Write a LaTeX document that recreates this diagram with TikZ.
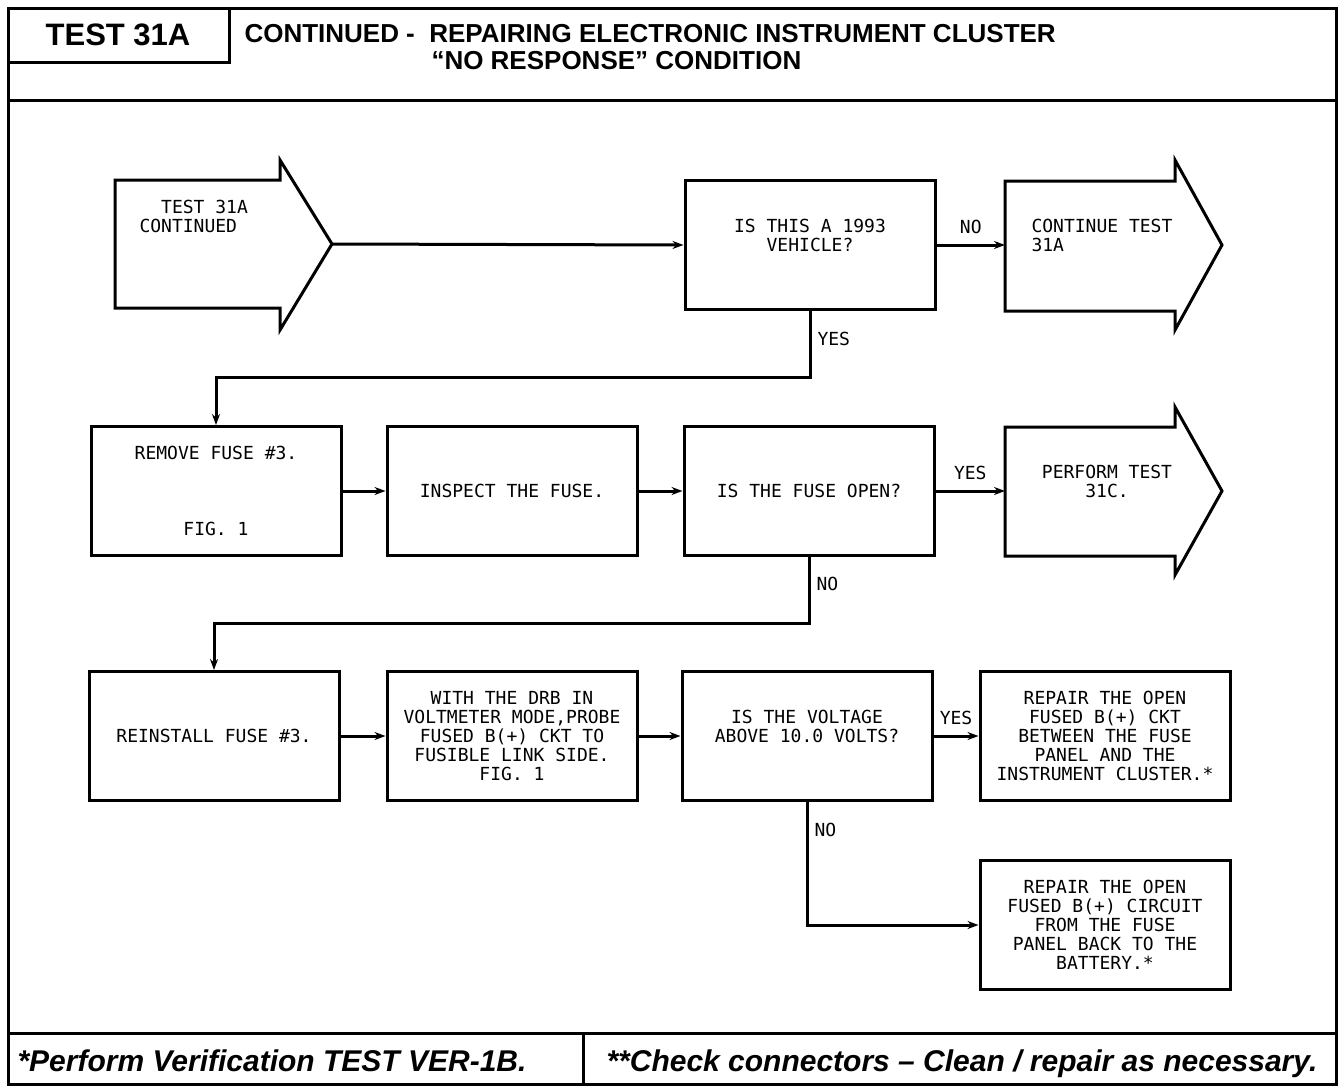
\documentclass[tikz,border=0pt]{standalone}
\usepackage{fontspec}
\usetikzlibrary{arrows.meta}
\setmainfont{Liberation Sans}
\newfontfamily\plotfont{DejaVu Sans Mono}
\tikzset{>={Stealth[length=11pt,width=8pt]}}
\tikzset{
  stepbox/.style={draw,line width=3pt,minimum width=250pt,minimum height=129pt,inner sep=0pt,align=center,font=\plotfont\fontsize{18}{19}\selectfont},
  plottext/.style={font=\plotfont\fontsize{18}{19}\selectfont,inner sep=0pt},
  headtext/.style={anchor=base west,font=\bfseries\fontsize{26}{26}\selectfont,inner sep=0pt,text depth=0pt},
  notetext/.style={anchor=base west,font=\bfseries\itshape\fontsize{30}{30}\selectfont,inner sep=0pt},
  flow/.style={->,line width=3pt},
}

\begin{document}
\begin{tikzpicture}[x=1pt,y=-1pt,line width=3pt]
\useasboundingbox (0,0) rectangle (1344,1092);
\draw (8,8) rectangle (1336,1084);
\draw (8,100) -- (1336,100);
\draw (229,8) -- (229,62) -- (8,62);
\draw (8,1033) -- (1336,1033);
\draw (583,1033) -- (583,1084);
\node[font=\bfseries\fontsize{31}{31}\selectfont] (testid) at (118,35) {TEST 31A};
\node[headtext] (title) at (243,42) {CONTINUED -\ \ REPAIRING ELECTRONIC INSTRUMENT CLUSTER};
\node[headtext] (subtitle) at (430,69) {“NO RESPONSE” CONDITION};
\node[notetext] (note1) at (16,1071) {*Perform Verification TEST VER-1B.};
\node[notetext] (note2) at (605,1071) {**Check connectors -- Clean / repair as necessary.};

\draw (115,180) -- (280,180) -- (280,160) -- (332,244) -- (280,330) -- (280,308) -- (115,308) -- cycle;
\coordinate (starttip) at (332,244);
\node[plottext,anchor=west,align=left] (startlbl) at (138,216) {\ \ TEST 31A\\CONTINUED};
\draw (1005,181) -- (1175,181) -- (1175,160) -- (1222,245) -- (1175,330) -- (1175,311) -- (1005,311) -- cycle;
\coordinate (contin) at (1005,245);
\node[plottext,anchor=west,align=left] (continlbl) at (1030,235) {CONTINUE TEST\\31A};
\draw (1005,427) -- (1175,427) -- (1175,407) -- (1222,491) -- (1175,575) -- (1175,556) -- (1005,556) -- cycle;
\coordinate (perform) at (1005,491);
\node[plottext,align=center] (performlbl) at (1107,481) {PERFORM TEST\\31C.};

\node[stepbox] (q1993) at (810,245) {};
\node[plottext,align=center] at ([yshift=10pt]q1993.center) {IS THIS A 1993\\VEHICLE?};
\node[stepbox] (removefuse) at (216,491) {REMOVE FUSE \#3.\\[57pt]FIG. 1};
\node[stepbox] (inspect) at (512,491) {INSPECT THE FUSE.};
\node[stepbox] (fuseopen) at (809,491) {IS THE FUSE OPEN?};
\node[stepbox] (reinstall) at (214,736) {REINSTALL FUSE \#3.};
\node[stepbox] (probe) at (512,736) {WITH THE DRB IN\\VOLTMETER MODE,PROBE\\FUSED B(+) CKT TO\\FUSIBLE LINK SIDE.\\FIG. 1};
\node[stepbox] (voltage) at (807,736) {};
\node[plottext,align=center] at ([yshift=10pt]voltage.center) {IS THE VOLTAGE\\ABOVE 10.0 VOLTS?};
\node[stepbox] (repairckt) at (1105,736) {REPAIR THE OPEN\\FUSED B(+) CKT\\BETWEEN THE FUSE\\PANEL AND THE\\INSTRUMENT CLUSTER.*};
\node[stepbox] (repairbatt) at (1105,925) {REPAIR THE OPEN\\FUSED B(+) CIRCUIT\\FROM THE FUSE\\PANEL BACK TO THE\\BATTERY.*};

\draw[flow] (starttip) -- (q1993.west);
\draw[flow] (q1993.east) -- node[plottext,above=10pt] (no1) {NO} (contin);
\draw[flow] (q1993.south) -- ++(0,66) -| (removefuse.north);
\node[plottext,anchor=west] (yes1) at (816,339) {YES};
\draw[flow] (removefuse) -- (inspect);
\draw[flow] (inspect) -- (fuseopen);
\draw[flow] (fuseopen.east) -- node[plottext,above=10pt] (yes2) {YES} (perform);
\draw[flow] (fuseopen.south) -- ++(0,66) -| (reinstall.north);
\node[plottext,anchor=west] (no2) at (815,584) {NO};
\draw[flow] (reinstall) -- (probe);
\draw[flow] (probe) -- (voltage);
\draw[flow] (voltage) -- node[plottext,above=10pt] (yes3) {YES} (repairckt);
\draw[flow] (voltage.south) |- (repairbatt.west);
\node[plottext,anchor=west] (no3) at (813,830) {NO};
\end{tikzpicture}
\end{document}
